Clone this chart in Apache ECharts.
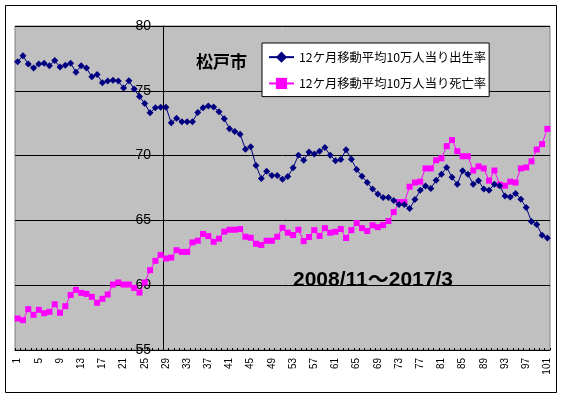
<!DOCTYPE html>
<html>
<head>
<meta charset="utf-8">
<script src="https://cdn.jsdelivr.net/npm/echarts@6/dist/echarts.min.js"></script>
<style>
html, body { margin: 0; padding: 0; background: #fff; }
#chart { width: 564px; height: 398px; }
</style>
</head>
<body>
<div id="chart"></div>
<script>
// 月番号 (2008/11 = 1 ... 2017/3 = 101)
const months = Array.from({ length: 101 }, (_, i) => String(i + 1));

// 12ケ月移動平均 10万人当り出生率
const birthRate = [
  77.24, 77.70, 77.06, 76.75, 77.06, 77.13, 76.93, 77.34, 76.83, 76.98,
  77.13, 76.44, 76.93, 76.75, 76.08, 76.26, 75.62, 75.75, 75.82, 75.75,
  75.21, 75.77, 75.13, 74.56, 74.02, 73.30, 73.69, 73.74, 73.74, 72.53,
  72.89, 72.61, 72.61, 72.61, 73.32, 73.70, 73.83, 73.75, 73.39, 72.85,
  72.08, 71.85, 71.65, 70.49, 70.69, 69.23, 68.23, 68.79, 68.46, 68.46,
  68.17, 68.38, 69.07, 70.03, 69.64, 70.28, 70.13, 70.33, 70.62, 70.03,
  69.61, 69.69, 70.46, 69.72, 68.92, 68.41, 67.92, 67.42, 67.03, 66.77,
  66.77, 66.54, 66.22, 66.22, 65.91, 66.61, 67.32, 67.66, 67.47, 68.10,
  68.57, 69.09, 68.33, 67.79, 68.83, 68.57, 67.79, 68.05, 67.42, 67.32,
  67.79, 67.68, 66.88, 66.80, 67.08, 66.64, 65.99, 64.92, 64.69, 63.85,
  63.65
];

// 12ケ月移動平均 10万人当り死亡率
const deathRate = [
  57.43, 57.30, 58.15, 57.71, 58.10, 57.84, 57.94, 58.53, 57.87, 58.38,
  59.25, 59.64, 59.41, 59.33, 59.10, 58.64, 58.95, 59.28, 60.05, 60.21,
  60.05, 60.05, 59.79, 59.43, 60.21, 61.16, 61.88, 62.34, 62.06, 62.13,
  62.70, 62.57, 62.57, 63.30, 63.43, 63.95, 63.79, 63.35, 63.59, 64.13,
  64.28, 64.28, 64.33, 63.74, 63.66, 63.20, 63.10, 63.43, 63.43, 63.74,
  64.43, 64.05, 63.87, 64.28, 63.40, 63.72, 64.25, 63.80, 64.40, 64.05,
  64.12, 64.34, 63.64, 64.25, 64.80, 64.40, 64.18, 64.62, 64.48, 64.64,
  64.95, 65.64, 66.41, 66.41, 67.60, 67.92, 67.99, 69.01, 69.01, 69.64,
  69.79, 70.73, 71.20, 70.34, 69.95, 69.95, 68.85, 69.17, 69.01, 68.07,
  68.85, 67.76, 67.68, 67.99, 67.92, 69.01, 69.09, 69.56, 70.47, 70.89,
  72.06
];

const seriesNames = ['12ケ月移動平均10万人当り出生率', '12ケ月移動平均10万人当り死亡率'];

const oChart = echarts.init(document.getElementById('chart'));
const option = {
  backgroundColor: '#ffffff',
  animation: false,
  textStyle: { fontFamily: 'Noto Sans CJK JP' },
  title: [
    {
      text: '松戸市',
      left: 191,
      top: 48,
      textStyle: { fontSize: 17, fontWeight: 'bold', color: '#000', fontFamily: 'Noto Sans CJK JP' }
    },
    {
      text: '2008/11～2017/3',
      left: 288,
      top: 265,
      textStyle: { fontSize: 21, fontWeight: 'bold', color: '#000', fontFamily: '"Liberation Sans", "Noto Sans CJK JP", sans-serif' }
    }
  ],
  legend: {
    orient: 'vertical',
    left: 262,
    top: 43,
    width: 228,
    padding: [8, 3, 7, 6],
    itemWidth: 25,
    itemHeight: 14,
    itemGap: 14,
    backgroundColor: '#ffffff',
    borderColor: '#000000',
    borderWidth: 1,
    borderRadius: 0,
    textStyle: { fontSize: 12.3, color: '#000', fontFamily: 'Noto Sans CJK JP' },
    data: seriesNames
  },
  graphic: [
    {
      type: 'rect',
      shape: { x: 5.5, y: 5.5, width: 551, height: 387 },
      style: { fill: 'none', stroke: '#000', lineWidth: 1 },
      silent: true,
      z: 100
    }
  ],
  grid: {
    show: true,
    left: 15,
    right: 14,
    top: 26,
    bottom: 48,
    backgroundColor: '#c0c0c0',
    borderColor: '#808080',
    borderWidth: 1
  },
  xAxis: {
    type: 'category',
    data: months,
    boundaryGap: true,
    axisLine: { show: true, lineStyle: { color: '#000', width: 1 } },
    axisTick: { show: true, inside: true, length: 2, interval: 0, lineStyle: { color: '#000' } },
    axisLabel: {
      interval: 3,
      rotate: 90,
      margin: 8,
      fontSize: 10,
      color: '#000',
      fontFamily: 'Liberation Sans'
    },
    splitLine: { show: false }
  },
  yAxis: {
    type: 'value',
    min: 55,
    max: 80,
    interval: 5,
    offset: -148,
    axisLine: { show: true, lineStyle: { color: '#000', width: 1 } },
    axisTick: { show: true, inside: true, length: 4, lineStyle: { color: '#000' } },
    axisLabel: {
      margin: 12,
      fontSize: 14,
      color: '#000',
      fontFamily: 'Liberation Sans'
    },
    splitLine: { show: true, lineStyle: { color: '#000', width: 1 } }
  },
  series: [
    {
      name: seriesNames[0],
      type: 'line',
      data: birthRate,
      symbol: 'diamond',
      symbolSize: 7,
      showAllSymbol: true,
      itemStyle: { color: '#000080' },
      lineStyle: { color: '#000080', width: 1 },
      z: 3
    },
    {
      name: seriesNames[1],
      type: 'line',
      data: deathRate,
      symbol: 'rect',
      symbolSize: 6,
      showAllSymbol: true,
      itemStyle: { color: '#ff00ff' },
      lineStyle: { color: '#ff00ff', width: 1 },
      z: 2
    }
  ]
};
oChart.setOption(option);
</script>
</body>
</html>
